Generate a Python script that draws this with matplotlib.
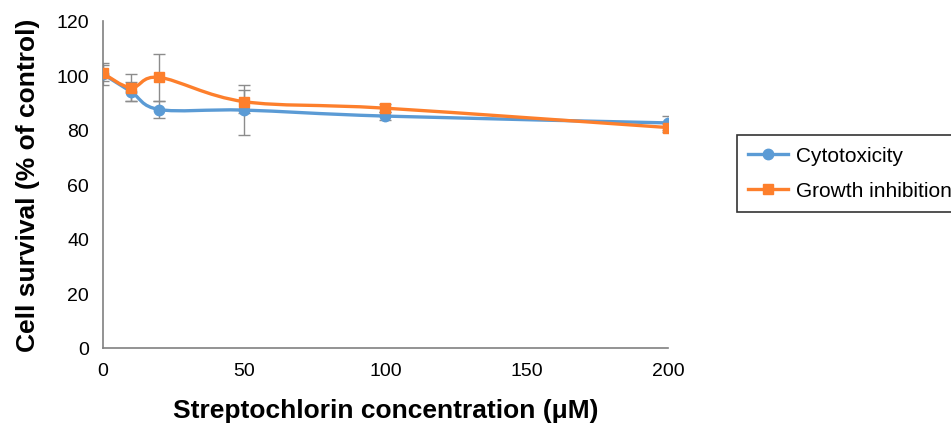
import numpy as np
import matplotlib
matplotlib.use("Agg")
import matplotlib.pyplot as plt
from matplotlib.path import Path
from matplotlib.patches import PathPatch

plt.rcParams['font.family'] = ['Liberation Sans', 'DejaVu Sans']

# data
conc = [0, 10, 20, 50, 100, 200]
cyto = [100.5, 94.0, 87.5, 87.3, 85.1, 82.6]
cyto_err = [4.0, 3.5, 3.0, 9.3, 1.5, 2.5]
growth = [100.8, 95.5, 99.3, 90.4, 88.0, 80.9]
growth_err = [3.0, 5.0, 8.7, 4.3, 1.5, 1.5]

blue = '#5b9bd5'
orange = '#fd7f2c'


def smooth_path(xs, ys):
    # Catmull-Rom style bezier like Excel's "smoothed line"
    pts = np.column_stack([xs, ys]).astype(float)
    verts = [pts[0]]
    codes = [Path.MOVETO]
    n = len(pts)
    for i in range(n - 1):
        p0 = pts[i - 1] if i > 0 else pts[i]
        p1 = pts[i]
        p2 = pts[i + 1]
        p3 = pts[i + 2] if i + 2 < n else pts[i + 1]
        c1 = p1 + (p2 - p0) / 6.0
        c2 = p2 - (p3 - p1) / 6.0
        verts += [c1, c2, p2]
        codes += [Path.CURVE4] * 3
    return Path(verts, codes)


fig = plt.figure(figsize=(9.51, 4.27), dpi=100)
ax = fig.add_axes([0.1083, 0.1827, 0.594, 0.7658])

for ys, err, col, mk, lab in [(cyto, cyto_err, blue, 'o', 'Cytotoxicity'),
                              (growth, growth_err, orange, 's', 'Growth inhibition')]:
    ax.errorbar(conc, ys, yerr=err, fmt='none', ecolor='#8c8c8c', elinewidth=1,
                capsize=4, capthick=1, zorder=2)
    ax.add_patch(PathPatch(smooth_path(conc, ys), facecolor='none', edgecolor=col,
                           lw=2.4, zorder=3))
    ax.plot(conc, ys, linestyle='none', marker=mk, color=col, markersize=7.5, zorder=4)
    ax.plot([], [], color=col, lw=2.4, marker=mk, markersize=7.5, label=lab)

ax.set_xlim(0, 200)
ax.set_ylim(0, 120)
ax.set_xticks([0, 50, 100, 150, 200])
ax.set_yticks(range(0, 121, 20))
ax.tick_params(length=0, labelsize=14, pad=10)
ax.tick_params(axis='x', pad=10)
for s in ['top', 'right']:
    ax.spines[s].set_visible(False)
for s in ['left', 'bottom']:
    ax.spines[s].set_color('#808080')
    ax.spines[s].set_linewidth(1.2)

ax.set_xlabel('Streptochlorin concentration (μM)', fontsize=19, fontweight='bold', labelpad=14)
ax.set_ylabel('Cell survival (% of control)', fontsize=19, fontweight='bold', labelpad=12)

leg = ax.legend(loc='upper left', bbox_to_anchor=(737 / 951, 1 - 136 / 427),
                bbox_transform=fig.transFigure, fontsize=15, frameon=True,
                fancybox=False, edgecolor='black', handlelength=1.9,
                borderpad=0.55, labelspacing=0.75, handletextpad=0.4,
                borderaxespad=0)
leg.get_frame().set_linewidth(1.2)

fig.savefig('out.png', dpi=100)
